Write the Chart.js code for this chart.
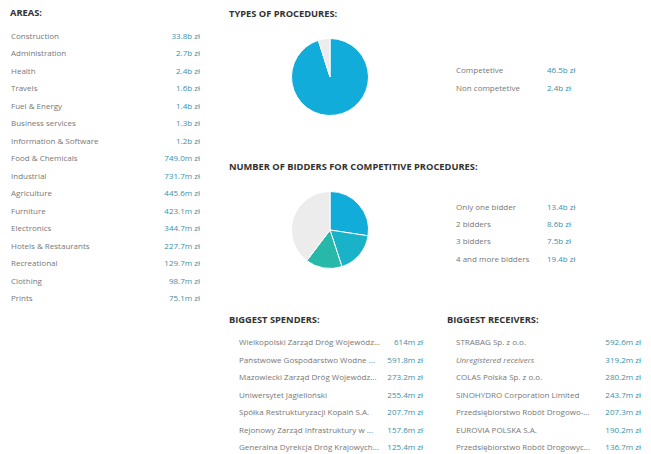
<!DOCTYPE html>
<html>
<head>
<meta charset="utf-8">
<script src="https://cdn.jsdelivr.net/npm/chart.js@4"></script>
<style>
  body { margin: 0; width: 651px; height: 454px; background: #fff; font-family: "Open Sans", sans-serif; position: relative; overflow: hidden; }
  .title { position: absolute; font-weight: bold; font-size: 9.3px; color: #333; white-space: nowrap; }
  .row { position: absolute; font-size: 8px; color: #777; white-space: nowrap; line-height: 10px; }
  .val { position: absolute; font-size: 8px; color: #3d8fa6; white-space: nowrap; line-height: 10px; }
  canvas { position: absolute; }
</style>
</head>
<body>
<div class="title" style="left:10px;top:6px">AREAS:</div>
<div class="title" style="left:229px;top:7px">TYPES OF PROCEDURES:</div>
<div class="title" style="left:229px;top:160px">NUMBER OF BIDDERS FOR COMPETITIVE PROCEDURES:</div>
<div class="title" style="left:229px;top:313px">BIGGEST SPENDERS:</div>
<div class="title" style="left:447px;top:313px">BIGGEST RECEIVERS:</div>
<div id="lists"></div>
<canvas id="typesPie" width="80" height="80" style="left:290px;top:37px"></canvas>
<canvas id="biddersPie" width="80" height="80" style="left:290px;top:190px"></canvas>
<script>
const areaNames = ['Construction', 'Administration', 'Health', 'Travels', 'Fuel & Energy', 'Business services',
  'Information & Software', 'Food & Chemicals', 'Industrial', 'Agriculture', 'Furniture', 'Electronics',
  'Hotels & Restaurants', 'Recreational', 'Clothing', 'Prints'];
const areaValues = ['33.8b zł', '2.7b zł', '2.4b zł', '1.6b zł', '1.4b zł', '1.3b zł', '1.2b zł', '749.0m zł',
  '731.7m zł', '445.6m zł', '423.1m zł', '344.7m zł', '227.7m zł', '129.7m zł', '98.7m zł', '75.1m zł'];

const typeLabels = ['Competetive', 'Non competetive'];
const typeValues = [46.5, 2.4];

const bidderLabels = ['Only one bidder', '2 bidders', '3 bidders', '4 and more bidders'];
const bidderValues = [13.4, 8.6, 7.5, 19.4];

const spenderNames = ['Wielkopolski Zarząd Dróg Wojewódz...', 'Państwowe Gospodarstwo Wodne ...',
  'Mazowiecki Zarząd Dróg Wojewódz...', 'Uniwersytet Jagielloński', 'Spółka Restrukturyzacji Kopalń S.A.',
  'Rejonowy Zarząd Infrastruktury w ...', 'Generalna Dyrekcja Dróg Krajowych...'];
const spenderValues = ['614m zł', '591.8m zł', '273.2m zł', '255.4m zł', '207.7m zł', '157.6m zł', '125.4m zł'];

const receiverNames = ['STRABAG Sp. z o.o.', 'Unregistered receivers', 'COLAS Polska Sp. z o.o.',
  'SINOHYDRO Corporation Limited', 'Przedsiębiorstwo Robót Drogowo-...', 'EUROVIA POLSKA S.A.',
  'Przedsiębiorstwo Robót Drogowyc...'];
const receiverValues = ['592.6m zł', '319.2m zł', '280.2m zł', '243.7m zł', '207.3m zł', '190.2m zł', '136.7m zł'];

const lists = document.getElementById('lists');
function addText(cls, text, x, y, alignRight, italic) {
  const d = document.createElement('div');
  d.className = cls;
  d.textContent = text;
  d.style.top = (y - 5) + 'px';
  if (alignRight) d.style.right = (651 - x) + 'px'; else d.style.left = x + 'px';
  if (italic) d.style.fontStyle = 'italic';
  lists.appendChild(d);
}

areaNames.forEach((n, i) => {
  const y = 36 + i * 17.47;
  addText('row', n, 11, y);
  addText('val', areaValues[i], 200, y, true);
});
typeLabels.forEach((n, i) => {
  const y = 70 + i * 17.5;
  addText('row', n, 456, y);
  addText('val', typeValues[i] + 'b zł', 547, y);
});
bidderLabels.forEach((n, i) => {
  const y = 207 + i * 17.2;
  addText('row', n, 456, y);
  addText('val', bidderValues[i] + 'b zł', 547, y);
});
spenderNames.forEach((n, i) => {
  const y = 342 + i * 17.5;
  addText('row', n, 239, y);
  addText('val', spenderValues[i], 423, y, true);
});
receiverNames.forEach((n, i) => {
  const y = 342 + i * 17.5;
  addText('row', n, 456, y, false, i === 1);
  addText('val', receiverValues[i], 641, y, true);
});

const pieOpts = {
  responsive: false,
  animation: false,
  layout: { padding: 1 },
  plugins: { legend: { display: false }, tooltip: { enabled: false } }
};

new Chart(document.getElementById('typesPie'), {
  type: 'pie',
  data: {
    labels: typeLabels,
    datasets: [{
      data: typeValues,
      backgroundColor: ['#12acdb', '#ececec'],
      borderColor: '#fff',
      borderWidth: 1
    }]
  },
  options: pieOpts
});

new Chart(document.getElementById('biddersPie'), {
  type: 'pie',
  data: {
    labels: bidderLabels,
    datasets: [{
      data: bidderValues,
      backgroundColor: ['#12acdb', '#1ab2c9', '#27b8aa', '#ececec'],
      borderColor: '#fff',
      borderWidth: 1
    }]
  },
  options: pieOpts
});
</script>
</body>
</html>
